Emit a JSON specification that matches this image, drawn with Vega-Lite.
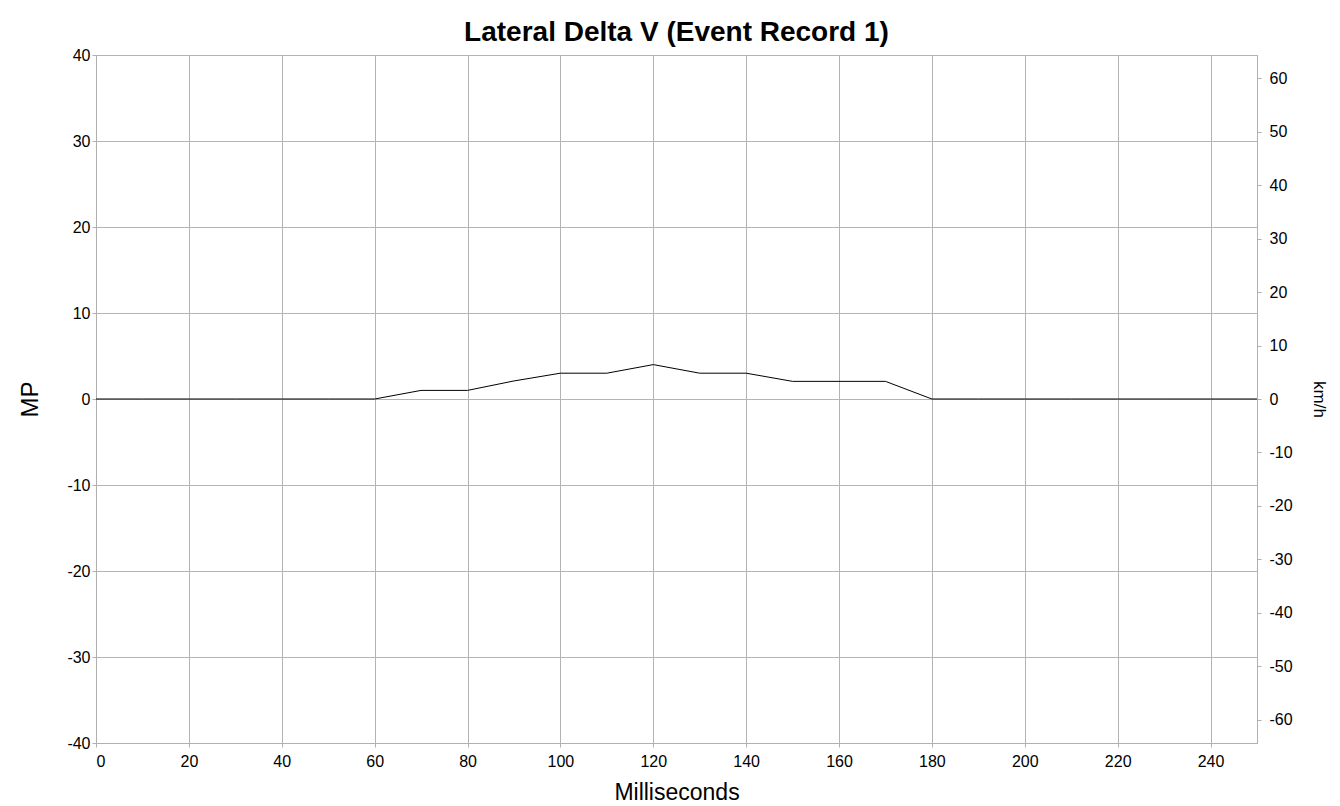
{
  "$schema": "https://vega.github.io/schema/vega-lite/v6.json",
  "autosize": {"type": "none"},
  "width": 1161,
  "height": 688,
  "padding": {"left": 96, "top": 55, "right": 83, "bottom": 63},
  "background": "white",
  "config": {
    "font": "Liberation Sans",
    "view": {"stroke": "#b0b0b0", "strokeWidth": 1},
    "axis": {
      "labelFont": "Liberation Sans",
      "titleFont": "Liberation Sans",
      "labelFontSize": 16,
      "labelColor": "#000000",
      "titleColor": "#000000",
      "titleFontWeight": "normal",
      "gridColor": "#b4b4b4",
      "gridOpacity": 1,
      "domainColor": "#b0b0b0",
      "tickColor": "#b0b0b0",
      "tickSize": 4,
      "labelExpr": "'' + datum.value"
    }
  },
  "title": {
    "text": "Lateral Delta V (Event Record 1)",
    "fontSize": 28,
    "fontWeight": "bold",
    "font": "Liberation Sans",
    "color": "#000000",
    "anchor": "middle",
    "frame": "group",
    "offset": 0
  },
  "data": {
    "values": [
      {"ms": 0, "mph": 0, "kmh": 0},
      {"ms": 10, "mph": 0, "kmh": 0},
      {"ms": 20, "mph": 0, "kmh": 0},
      {"ms": 30, "mph": 0, "kmh": 0},
      {"ms": 40, "mph": 0, "kmh": 0},
      {"ms": 50, "mph": 0, "kmh": 0},
      {"ms": 60, "mph": 0, "kmh": 0},
      {"ms": 70, "mph": 1, "kmh": 1.6},
      {"ms": 80, "mph": 1, "kmh": 1.6},
      {"ms": 90, "mph": 2.1, "kmh": 3.4},
      {"ms": 100, "mph": 3, "kmh": 4.8},
      {"ms": 110, "mph": 3, "kmh": 4.8},
      {"ms": 120, "mph": 4, "kmh": 6.4},
      {"ms": 130, "mph": 3, "kmh": 4.8},
      {"ms": 140, "mph": 3, "kmh": 4.8},
      {"ms": 150, "mph": 2.05, "kmh": 3.3},
      {"ms": 160, "mph": 2.05, "kmh": 3.3},
      {"ms": 170, "mph": 2.05, "kmh": 3.3},
      {"ms": 180, "mph": 0, "kmh": 0},
      {"ms": 190, "mph": 0, "kmh": 0},
      {"ms": 200, "mph": 0, "kmh": 0},
      {"ms": 210, "mph": 0, "kmh": 0},
      {"ms": 220, "mph": 0, "kmh": 0},
      {"ms": 230, "mph": 0, "kmh": 0},
      {"ms": 240, "mph": 0, "kmh": 0},
      {"ms": 250, "mph": 0, "kmh": 0}
    ]
  },
  "encoding": {
    "x": {
      "field": "ms",
      "type": "quantitative",
      "scale": {"domain": [0, 250], "nice": false, "zero": false},
      "axis": {
        "title": "Milliseconds",
        "titleFontSize": 23,
        "titlePadding": 12,
        "values": [0, 20, 40, 60, 80, 100, 120, 140, 160, 180, 200, 220, 240],
        "labelPadding": 6,
        "grid": true
      }
    }
  },
  "layer": [
    {
      "mark": {"type": "line", "color": "#000000", "strokeWidth": 1, "interpolate": "linear"},
      "encoding": {
        "y": {
          "field": "mph",
          "type": "quantitative",
          "scale": {"domain": [-40, 40], "nice": false, "zero": false},
          "axis": {
            "title": "MP",
            "titleFontSize": 24,
            "titlePadding": 24,
            "orient": "left",
            "values": [-40, -30, -20, -10, 0, 10, 20, 30, 40],
            "labelPadding": 2,
            "grid": true
          }
        }
      }
    },
    {
      "mark": {"type": "line", "strokeOpacity": 0},
      "encoding": {
        "y": {
          "field": "kmh",
          "type": "quantitative",
          "scale": {"domain": [-64.37376, 64.37376], "nice": false, "zero": false},
          "axis": {
            "title": "km/h",
            "titleFontSize": 17,
            "orient": "right",
            "values": [-60, -50, -40, -30, -20, -10, 0, 10, 20, 30, 40, 50, 60],
            "labelPadding": 8,
            "titlePadding": 17,
            "grid": false
          }
        }
      }
    }
  ],
  "resolve": {"scale": {"y": "independent"}}
}
